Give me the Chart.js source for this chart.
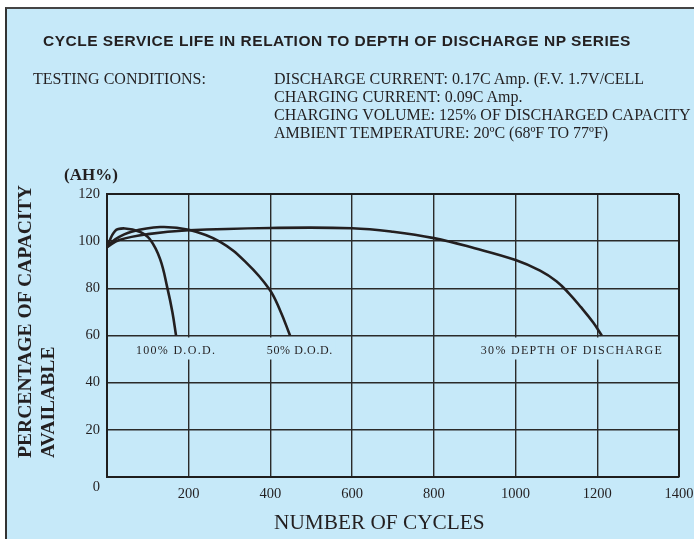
<!DOCTYPE html>
<html>
<head>
<meta charset="utf-8">
<script src="https://cdn.jsdelivr.net/npm/chart.js@4/dist/chart.umd.min.js"></script>
<style>
  body { margin: 0; background: #fff; width: 694px; height: 539px; overflow: hidden; position: relative; }
  #panel { position: absolute; left: 5px; top: 7px; width: 700px; height: 540px; background: #c6e9f9;
           border-left: 2px solid #333; border-top: 2px solid #444; }
  #chartBox { position: absolute; left: 0; top: 0; width: 694px; height: 539px; }
  .txt { position: absolute; white-space: nowrap; color: #231f20; line-height: 1; }
  .serif { font-family: "Liberation Serif", "Times New Roman", serif; }
  #title { left: 43px; top: 32px; font: bold 15.5px "Liberation Sans", Arial, sans-serif; letter-spacing: 0.5px; }
  .cond { font-size: 16px; }
  .ytitle { font-weight: bold; font-size: 19.6px; transform-origin: 0 0; transform: rotate(-90deg); }
</style>
</head>
<body>
<div id="panel"></div>
<div id="chartBox"><canvas id="lifeChart" width="694" height="539"></canvas></div>

<div id="title" class="txt">CYCLE SERVICE LIFE IN RELATION TO DEPTH OF DISCHARGE NP SERIES</div>
<div class="txt serif cond" style="left:33px; top:71px;">TESTING CONDITIONS:</div>
<div class="txt serif cond" style="left:274px; top:71px;">DISCHARGE CURRENT: 0.17C Amp. (F.V. 1.7V/CELL</div>
<div class="txt serif cond" style="left:274px; top:89px;">CHARGING CURRENT: 0.09C Amp.</div>
<div class="txt serif cond" style="left:274px; top:107px;">CHARGING VOLUME: 125% OF DISCHARGED CAPACITY</div>
<div class="txt serif cond" style="left:274px; top:125px;">AMBIENT TEMPERATURE: 20ºC (68ºF TO 77ºF)</div>
<div class="txt serif" style="left:64px; top:166px; font-weight:bold; font-size:17px;">(AH%)</div>
<div class="txt serif ytitle" style="left:15px; top:458px;">PERCENTAGE OF CAPACITY</div>
<div class="txt serif ytitle" style="left:38px; top:458px;">AVAILABLE</div>
<div class="txt serif" style="left:274px; top:512px; font-size:21.3px;">NUMBER OF CYCLES</div>

<script>
// eixos
const xTicks = [0, 200, 400, 600, 800, 1000, 1200, 1400];
const yTicks = [0, 20, 40, 60, 80, 100, 120];

// curvas (ciclos, % capacidade)
const dod100Cycles = [0, 20, 44, 80, 105, 130, 148, 160, 169];
const dod100Cap    = [97.5, 104.4, 105.4, 104, 100.8, 92.4, 80, 70, 60];

const dod50Cycles = [0, 20, 60, 130, 200, 277, 342, 397, 424, 448];
const dod50Cap    = [97.5, 100.8, 104, 106, 104.8, 99.7, 90.7, 79.7, 70.5, 60];

const dod30Cycles = [0, 30, 100, 200, 400, 600, 700, 800, 900, 1000, 1060, 1100, 1130, 1160, 1190, 1211];
const dod30Cap    = [97.5, 100.5, 103, 104.6, 105.6, 105.5, 104, 101.3, 97, 92, 87.5, 83, 78, 72, 65.5, 60];

// rótulos das curvas
const curveLabels = ["100% D.O.D.", "50% D.O.D.", "30% DEPTH OF DISCHARGE"];
const labelCycles = [169, 472, 1138];
const labelSpacing = ["1.3px", "0.6px", "1.3px"];
const labelCap = 53.5;

const panelColor = "#c6e9f9";
const inkColor = "#231f20";
const serif = "'Liberation Serif', 'Times New Roman', serif";

const toPoints = (xs, ys) => xs.map((x, i) => ({ x: x, y: ys[i] }));

const makeSet = (label, xs, ys) => ({
    label: label,
    data: toPoints(xs, ys),
    showLine: true,
    borderColor: inkColor,
    borderWidth: 2.6,
    pointRadius: 0,
    tension: 0.4,
    fill: false
});

// desenha os rótulos das curvas e o "0" do eixo y
const labelsPlugin = {
    id: "curveLabels",
    afterDatasetsDraw(chart) {
        const ctx = chart.ctx;
        const xs = chart.scales.x;
        const ys = chart.scales.y;
        ctx.save();
        ctx.font = "12px " + serif;
        ctx.textAlign = "center";
        ctx.textBaseline = "middle";
        curveLabels.forEach((txt, i) => {
            ctx.letterSpacing = labelSpacing[i];
            const cx = xs.getPixelForValue(labelCycles[i]);
            const cy = ys.getPixelForValue(labelCap);
            const w = ctx.measureText(txt).width;
            ctx.fillStyle = panelColor;
            ctx.fillRect(cx - w / 2 - 3, ys.getPixelForValue(60) + 2, w + 6, 22);
            ctx.fillStyle = inkColor;
            ctx.fillText(txt, cx, cy);
        });
        ctx.letterSpacing = "0px";
        ctx.font = "14.5px " + serif;
        ctx.textAlign = "right";
        ctx.fillText(String(yTicks[0]), ys.right - 7, ys.getPixelForValue(0) + 10);
        ctx.restore();
    }
};

new Chart(document.getElementById("lifeChart"), {
    type: "scatter",
    data: {
        datasets: [
            makeSet("100% D.O.D.", dod100Cycles, dod100Cap),
            makeSet("50% D.O.D.", dod50Cycles, dod50Cap),
            makeSet("30% D.O.D.", dod30Cycles, dod30Cap)
        ]
    },
    options: {
        responsive: false,
        animation: false,
        layout: { padding: { left: 0, right: 15, top: 194, bottom: 0 } },
        plugins: { legend: { display: false }, tooltip: { enabled: false } },
        scales: {
            x: {
                type: "linear",
                min: xTicks[0],
                max: xTicks[xTicks.length - 1],
                afterBuildTicks: (s) => { s.ticks = xTicks.map(v => ({ value: v })); },
                afterFit: (s) => { s.height = 62; s.paddingLeft = 0; s.paddingRight = 0; },
                ticks: {
                    padding: 8,
                    color: inkColor,
                    font: { family: serif, size: 14.5 },
                    callback: (v) => (v === 0 ? "" : v)
                },
                grid: { color: "#2a2a2a", lineWidth: 1.4, drawTicks: false },
                border: { color: "#1e1e1e", width: 2 }
            },
            y: {
                min: yTicks[0],
                max: yTicks[yTicks.length - 1],
                afterBuildTicks: (s) => { s.ticks = yTicks.map(v => ({ value: v })); },
                afterFit: (s) => { s.width = 107; s.paddingTop = 0; s.paddingBottom = 0; },
                ticks: {
                    padding: 7,
                    color: inkColor,
                    font: { family: serif, size: 14.5 },
                    callback: (v) => (v === 0 ? "" : v)
                },
                grid: {
                    color: (c) => (c.tick && c.tick.value === 120 ? "#1e1e1e" : "#2a2a2a"),
                    lineWidth: (c) => (c.tick && c.tick.value === 120 ? 2 : 1.4),
                    drawTicks: false
                },
                border: { color: "#1e1e1e", width: 2 }
            }
        }
    },
    plugins: [labelsPlugin, {
        // borda direita da área do gráfico
        id: "rightEdge",
        afterDraw(chart) {
            const a = chart.chartArea;
            const ctx = chart.ctx;
            ctx.save();
            ctx.strokeStyle = "#1e1e1e";
            ctx.lineWidth = 2;
            ctx.beginPath();
            ctx.moveTo(a.right, a.top);
            ctx.lineTo(a.right, a.bottom);
            ctx.stroke();
            ctx.restore();
        }
    }]
});
</script>
</body>
</html>
